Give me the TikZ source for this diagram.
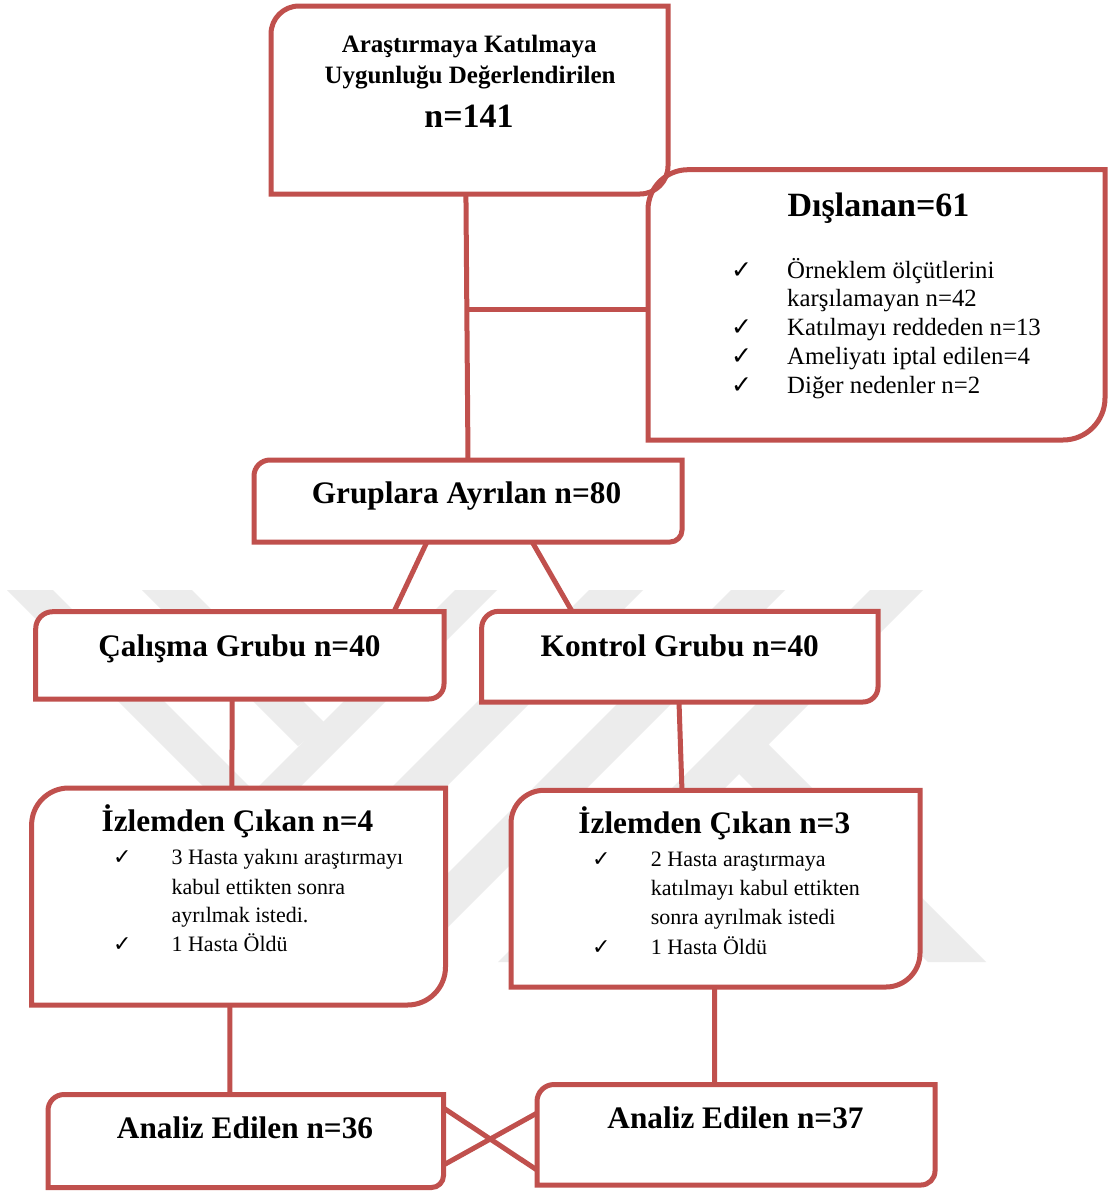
\documentclass[tikz,border=0pt]{standalone}
\usepackage{fontspec}
\setmainfont{Liberation Serif}
\newfontfamily\ticksym{DejaVu Sans}
\usetikzlibrary{calc}

\definecolor{boxred}{RGB}{192,80,77}
\definecolor{wmgray}{RGB}{236,236,236}

\tikzset{
  frame/.style={inner sep=0pt, outer sep=0pt, draw=none},
  boxline/.style={draw=boxred, fill=white, line width=5pt, line join=miter},
  conn/.style={draw=boxred, line width=5pt},
  hd/.style={anchor=base, inner sep=0pt, font=\bfseries\fontsize{31.3}{31.3}\selectfont},
  hdsmall/.style={anchor=base, inner sep=0pt, font=\bfseries\fontsize{25}{25}\selectfont},
  hdbig/.style={anchor=base, inner sep=0pt, font=\bfseries\fontsize{34}{34}\selectfont},
  itm/.style={anchor=base west, inner sep=0pt, font=\fontsize{24.8}{24.8}\selectfont},
  itmsmall/.style={anchor=base west, inner sep=0pt, font=\fontsize{22}{22}\selectfont},
  tick/.style={anchor=base west, inner sep=0pt, font=\ticksym\fontsize{25}{25}\selectfont},
  ticksmall/.style={anchor=base west, inner sep=0pt, font=\ticksym\fontsize{22}{22}\selectfont},
}

% invisible node spanning a box: name, x1, y1, x2, y2 (stroke centre lines)
\newcommand\spanbox[5]{%
  \node[frame, minimum width={#4-#2}, minimum height={#5-#3}] (#1)
    at ({(#2+#4)/2},{(#3+#5)/2}) {};}

% box outline with rounded top-left and bottom-right corners
\newcommand\boxoutline[4][]{%
  \path[boxline,#1] let \p1=(#2.north west), \p2=(#2.south east) in
    (\x1,\y2) -- (\x1,\y1-#3)
    .. controls (\x1,\y1-0.4477*#3) and (\x1+0.4477*#3,\y1) .. (\x1+#3,\y1)
    -- (\x2,\y1) -- (\x2,\y2+#4)
    .. controls (\x2,\y2+0.4477*#4) and (\x2-0.4477*#4,\y2) .. (\x2-#4,\y2)
    -- cycle;}

\begin{document}
\begin{tikzpicture}[x=1pt, y=-1pt]
\useasboundingbox (0,0) rectangle (1108,1191);
\fill[white] (0,0) rectangle (1108,1191);

% background emblem
\fill[wmgray] (7,590) -- (53,590) -- (254,791) -- (455,590) -- (497,590) -- (252,835) -- cycle;
\fill[wmgray] (142,590) -- (192,590) -- (326,724) -- (298,746) -- cycle;
\fill[wmgray] (589,590) -- (643,590) -- (271,962) -- (217,962) -- cycle;
\fill[wmgray] (731,590) -- (785,590) -- (413,962) -- (359,962) -- cycle;
\fill[wmgray] (870,590) -- (923,590) -- (551,962) -- (498,962) -- cycle;
\fill[wmgray] (767,743) -- (986,962) -- (928,962) -- (739,774) -- cycle;

% box extents
\spanbox{b1}{271}{6}{668}{194}
\spanbox{dis}{648}{169.7}{1105}{440}
\spanbox{grp}{254}{460}{682}{542}
\spanbox{cal}{35.7}{611.7}{444}{699}
\spanbox{kon}{481.6}{611.3}{878}{702}
\spanbox{izl1}{31.6}{788}{445.5}{1005}
\spanbox{izl2}{511}{790.3}{920}{987}
\spanbox{an1}{48}{1094.5}{443.5}{1187.5}
\spanbox{an2}{537}{1084.5}{935}{1185}

% connectors
\coordinate (j1) at (467,309);
\draw[conn] ($(b1.south west)!0.491!(b1.south east)$) -- (grp.north);
\draw[conn] (j1) -- (j1 -| dis.west);
\draw[conn] ($(grp.south west)!0.404!(grp.south east)$) -- ($(cal.north west)!0.8775!(cal.north east)$);
\draw[conn] ($(grp.south west)!0.65!(grp.south east)$) -- ($(kon.north west)!0.228!(kon.north east)$);
\draw[conn] ($(cal.south west)!0.481!(cal.south east)$) -- ($(izl1.north west)!0.484!(izl1.north east)$);
\draw[conn] ($(kon.south west)!0.498!(kon.south east)$) -- ($(izl2.north west)!0.418!(izl2.north east)$);
\draw[conn] ($(izl1.south west)!0.479!(izl1.south east)$) -- ($(an1.north west)!0.46!(an1.north east)$);
\draw[conn] ($(izl2.south west)!0.498!(izl2.south east)$) -- ($(an2.north west)!0.446!(an2.north east)$);
\draw[conn] ($(an1.north east)!0.145!(an1.south east)$) -- ($(an2.north west)!0.851!(an2.south west)$);
\draw[conn] ($(an1.north east)!0.758!(an1.south east)$) -- ($(an2.north west)!0.284!(an2.south west)$);

% boxes
\boxoutline[draw=none]{dis}{40pt}{42pt}
\boxoutline[draw=none]{b1}{28pt}{28pt}
\boxoutline[fill=none]{dis}{40pt}{42pt}
\boxoutline[fill=none]{b1}{28pt}{28pt}
\boxoutline{grp}{16pt}{12pt}
\boxoutline{cal}{17pt}{15pt}
\boxoutline{kon}{17pt}{15pt}
\boxoutline{izl1}{37pt}{38pt}
\boxoutline{izl2}{33pt}{34pt}
\boxoutline{an1}{16pt}{12pt}
\boxoutline{an2}{17pt}{14pt}

% texts
\node[hdsmall] (b1a) at (469.2,52.5) {Araştırmaya Katılmaya};
\node[hdsmall] (b1b) at (470,83.5) {Uygunluğu Değerlendirilen};
\node[hdbig] (b1n) at (469,127) {n=141};

\node[hdbig] (dist) at (878.5,216) {Dışlanan=61};
\node[tick] (dk1) at (731,278.3) {✓};
\node[itm] (dt1) at (787,278.3) {Örneklem ölçütlerini};
\node[itm] (dt1b) at (787,306.7) {karşılamayan n=42};
\node[tick] (dk2) at (731,335.7) {✓};
\node[itm] (dt2) at (787,335.7) {Katılmayı reddeden n=13};
\node[tick] (dk3) at (731,364) {✓};
\node[itm] (dt3) at (787,364) {Ameliyatı iptal edilen=4};
\node[tick] (dk4) at (731,393.3) {✓};
\node[itm] (dt4) at (787,393.3) {Diğer nedenler n=2};

\node[hd] (grpt) at (466.5,503) {Gruplara Ayrılan n=80};
\node[hd] (calt) at (239.5,656.7) {Çalışma Grubu n=40};
\node[hd] (kont) at (679.8,656) {Kontrol Grubu n=40};

\node[hd] (i1t) at (237.5,831.7) {İzlemden Çıkan n=4};
\node[ticksmall] (i1k1) at (113,864) {✓};
\node[itmsmall] (i1a) at (171.4,864) {3 Hasta yakını araştırmayı};
\node[itmsmall] (i1b) at (171.4,894) {kabul ettikten sonra};
\node[itmsmall] (i1c) at (171.4,922.7) {ayrılmak istedi.};
\node[ticksmall] (i1k2) at (113,951.7) {✓};
\node[itmsmall] (i1d) at (171.4,951.7) {1 Hasta Öldü};

\node[hd] (i2t) at (714.3,833.3) {İzlemden Çıkan n=3};
\node[ticksmall] (i2k1) at (592,866.7) {✓};
\node[itmsmall] (i2a) at (650.7,866.7) {2 Hasta araştırmaya};
\node[itmsmall] (i2b) at (650.7,895) {katılmayı kabul ettikten};
\node[itmsmall] (i2c) at (650.7,924) {sonra ayrılmak istedi};
\node[ticksmall] (i2k2) at (592,954) {✓};
\node[itmsmall] (i2d) at (650.7,954) {1 Hasta Öldü};

\node[hd] (an1t) at (245,1138) {Analiz Edilen n=36};
\node[hd] (an2t) at (735.5,1128) {Analiz Edilen n=37};
\end{tikzpicture}
\end{document}
